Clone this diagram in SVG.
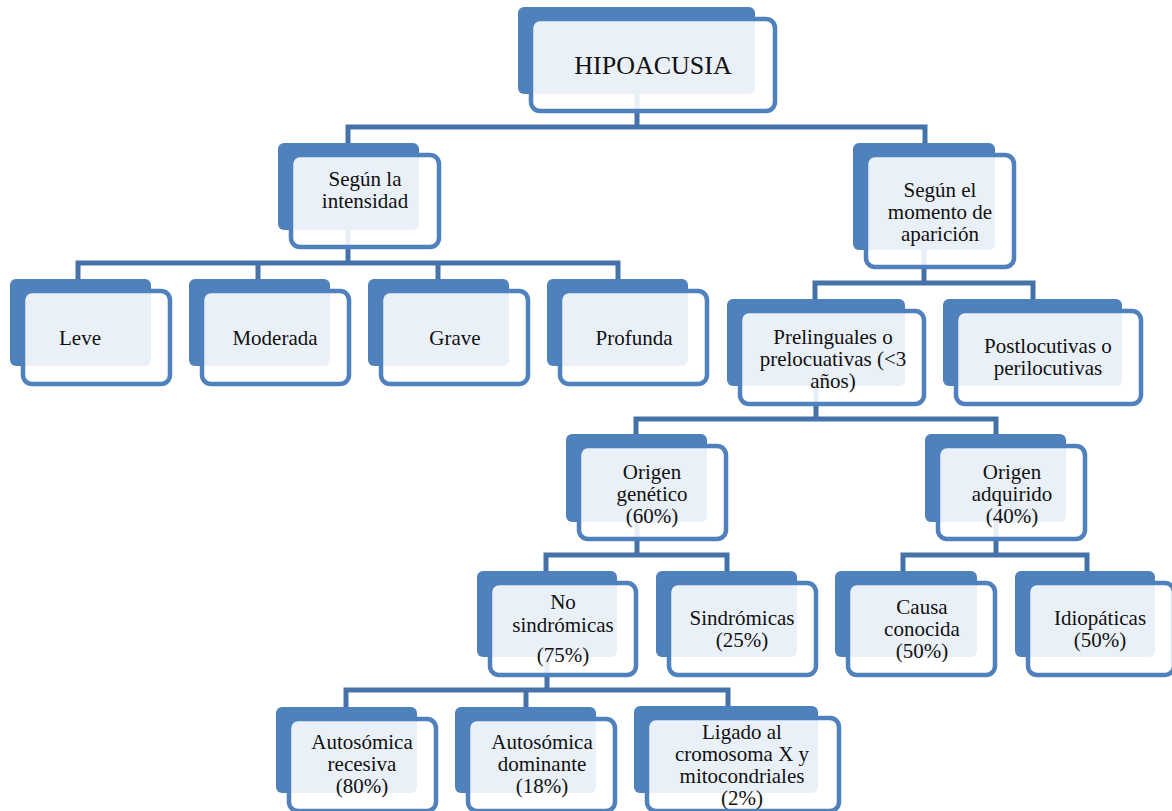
<svg xmlns="http://www.w3.org/2000/svg" width="1172" height="811" viewBox="0 0 1172 811">
<style>
.bk{fill:#4f81bd}
.fr{fill:#ffffff;fill-opacity:0.88;stroke:#4f81bd;stroke-width:4.5}
.c{fill:none;stroke:#4672aa;stroke-width:5;stroke-linejoin:miter}
text{font-family:"Liberation Serif","Times New Roman",serif;font-size:21px;fill:#111;text-anchor:middle}
.big{font-size:26px}
</style>
<rect width="1172" height="811" fill="#ffffff"/>
<g id="connectors">
<path class="c" d="M637 94V127M348 143V127H925V143"/>
<path class="c" d="M348 230V263M78 279V263H618V279M258 263V279M438 263V279"/>
<path class="c" d="M924 250V283M815 299V283H1033V299"/>
<path class="c" d="M816 386V419M636 434V419H996V434"/>
<path class="c" d="M637 522V555M546 571V555H727V571"/>
<path class="c" d="M996 522V555M903 571V555H1087V571"/>
<path class="c" d="M547 657V690M346 707V690H728V707M526 690V707"/>
</g>
<g id="n-hipoacusia">
<rect class="bk" x="518" y="7" width="237" height="87" rx="6"/>
<rect class="fr" x="531" y="19" width="244" height="92" rx="9"/>
<text class="big" x="653" y="74">HIPOACUSIA</text>
</g>
<g id="n-intensidad">
<rect class="bk" x="278" y="143" width="141" height="87" rx="6"/>
<rect class="fr" x="291" y="155" width="148" height="92" rx="9"/>
<text x="365" y="186">Según la</text>
<text x="365" y="208">intensidad</text>
</g>
<g id="n-momento">
<rect class="bk" x="853" y="143" width="142" height="107" rx="6"/>
<rect class="fr" x="866" y="155" width="148" height="112" rx="9"/>
<text x="940" y="197">Según el</text>
<text x="940" y="219">momento de</text>
<text x="940" y="241">aparición</text>
</g>
<g id="n-leve">
<rect class="bk" x="10" y="279" width="141" height="87" rx="6"/>
<rect class="fr" x="23" y="291" width="147" height="93" rx="9"/>
<text x="80" y="345">Leve</text>
</g>
<g id="n-moderada">
<rect class="bk" x="189" y="279" width="141" height="87" rx="6"/>
<rect class="fr" x="202" y="291" width="147" height="93" rx="9"/>
<text x="275" y="345">Moderada</text>
</g>
<g id="n-grave">
<rect class="bk" x="368" y="279" width="141" height="87" rx="6"/>
<rect class="fr" x="381" y="291" width="147" height="93" rx="9"/>
<text x="455" y="345">Grave</text>
</g>
<g id="n-profunda">
<rect class="bk" x="547" y="279" width="141" height="87" rx="6"/>
<rect class="fr" x="560" y="291" width="147" height="93" rx="9"/>
<text x="634" y="345">Profunda</text>
</g>
<g id="n-prelinguales">
<rect class="bk" x="727" y="299" width="178" height="87" rx="6"/>
<rect class="fr" x="740" y="311" width="184" height="93" rx="9"/>
<text x="833" y="344">Prelinguales o</text>
<text x="833" y="366">prelocuativas (&lt;3</text>
<text x="833" y="388">años)</text>
</g>
<g id="n-postlocutivas">
<rect class="bk" x="943" y="299" width="179" height="87" rx="6"/>
<rect class="fr" x="956" y="311" width="185" height="93" rx="9"/>
<text x="1048" y="353">Postlocutivas o</text>
<text x="1048" y="375">perilocutivas</text>
</g>
<g id="n-genetico">
<rect class="bk" x="566" y="434" width="141" height="88" rx="6"/>
<rect class="fr" x="579" y="446" width="147" height="93" rx="9"/>
<text x="652" y="479">Origen</text>
<text x="652" y="501">genético</text>
<text x="652" y="523">(60%)</text>
</g>
<g id="n-adquirido">
<rect class="bk" x="925" y="434" width="141" height="88" rx="6"/>
<rect class="fr" x="938" y="446" width="147" height="93" rx="9"/>
<text x="1012" y="479">Origen</text>
<text x="1012" y="501">adquirido</text>
<text x="1012" y="523">(40%)</text>
</g>
<g id="n-nosindromicas">
<rect class="bk" x="477" y="571" width="140" height="86" rx="6"/>
<rect class="fr" x="490" y="583" width="146" height="92" rx="9"/>
<text x="563" y="609">No</text>
<text x="563" y="632">sindrómicas</text>
<text x="563" y="662">(75%)</text>
</g>
<g id="n-sindromicas">
<rect class="bk" x="656" y="571" width="141" height="86" rx="6"/>
<rect class="fr" x="669" y="583" width="147" height="92" rx="9"/>
<text x="742" y="625">Sindrómicas</text>
<text x="742" y="647">(25%)</text>
</g>
<g id="n-causa">
<rect class="bk" x="835" y="571" width="142" height="86" rx="6"/>
<rect class="fr" x="848" y="583" width="147" height="92" rx="9"/>
<text x="922" y="614">Causa</text>
<text x="922" y="636">conocida</text>
<text x="922" y="658">(50%)</text>
</g>
<g id="n-idiopaticas">
<rect class="bk" x="1015" y="571" width="140" height="86" rx="6"/>
<rect class="fr" x="1028" y="583" width="146" height="92" rx="9"/>
<text x="1100" y="625">Idiopáticas</text>
<text x="1100" y="647">(50%)</text>
</g>
<g id="n-recesiva">
<rect class="bk" x="276" y="707" width="141" height="86" rx="6"/>
<rect class="fr" x="289" y="719" width="147" height="92" rx="9"/>
<text x="362" y="749">Autosómica</text>
<text x="362" y="771">recesiva</text>
<text x="362" y="793">(80%)</text>
</g>
<g id="n-dominante">
<rect class="bk" x="455" y="707" width="141" height="86" rx="6"/>
<rect class="fr" x="468" y="719" width="147" height="92" rx="9"/>
<text x="542" y="749">Autosómica</text>
<text x="542" y="771">dominante</text>
<text x="542" y="793">(18%)</text>
</g>
<g id="n-ligado">
<rect class="bk" x="634" y="706" width="184" height="87" rx="6"/>
<rect class="fr" x="647" y="718" width="192" height="93" rx="9"/>
<text x="742" y="739">Ligado al</text>
<text x="742" y="761">cromosoma X y</text>
<text x="742" y="783">mitocondriales</text>
<text x="742" y="805">(2%)</text>
</g>
</svg>
